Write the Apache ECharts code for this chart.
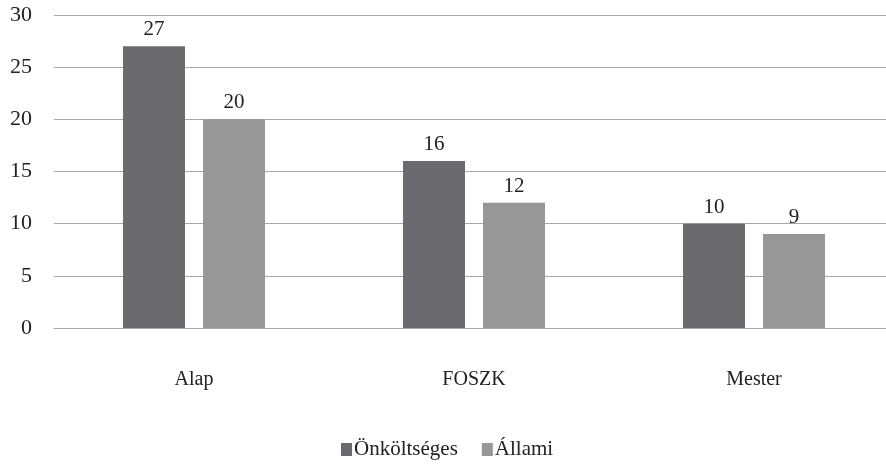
<!DOCTYPE html>
<html><head><meta charset="utf-8">
<script src="https://cdn.jsdelivr.net/npm/echarts@6/dist/echarts.min.js"></script>
<style>html,body{margin:0;padding:0;background:#fff;overflow:hidden}#c{width:900px;height:465px}</style>
</head><body><div id="c"></div>
<script>
const categories = ['Alap', 'FOSZK', 'Mester'];
const onkoltseges = [27, 16, 10];
const allami = [20, 12, 9];
const seriesNames = ['Önköltséges', 'Állami'];
const FONT = '"Liberation Serif", "DejaVu Serif", serif';
const chart = echarts.init(document.getElementById('c'), null, {renderer: 'canvas'});
chart.setOption({
  animation: false,
  backgroundColor: '#ffffff',
  textStyle: {fontFamily: FONT},
  grid: {left: 54, width: 840, top: 15, height: 313, containLabel: false},
  legend: {
    data: seriesNames,
    left: 336, bottom: 0,
    itemWidth: 11, itemHeight: 13, itemGap: 24,
    icon: 'rect',
    textStyle: {fontFamily: FONT, fontSize: 21, color: '#222', padding: [0,0,0,-3]}
  },
  xAxis: {
    type: 'category', data: categories,
    axisLine: {show: true, lineStyle: {color: '#a6a6a6', width: 1}},
    axisTick: {show: false},
    axisLabel: {fontFamily: FONT, fontSize: 20, color: '#222', margin: 42}
  },
  yAxis: {
    type: 'value', min: 0, max: 30, interval: 5,
    axisLine: {show: false}, axisTick: {show: false},
    splitLine: {lineStyle: {color: '#a6a6a6', width: 1}},
    axisLabel: {fontFamily: FONT, fontSize: 22, color: '#222', margin: 22}
  },
  series: [
    {name: seriesNames[0], type: 'bar', data: onkoltseges, barWidth: 62, barGap: '29%',
     itemStyle: {color: '#6b6b6f'},
     label: {show: true, position: 'top', distance: 6, fontFamily: FONT, fontSize: 21, color: '#222'}},
    {name: seriesNames[1], type: 'bar', data: allami, barWidth: 62,
     itemStyle: {color: '#97979a'},
     label: {show: true, position: 'top', distance: 6, fontFamily: FONT, fontSize: 21, color: '#222'}}
  ]
});
</script></body></html>
